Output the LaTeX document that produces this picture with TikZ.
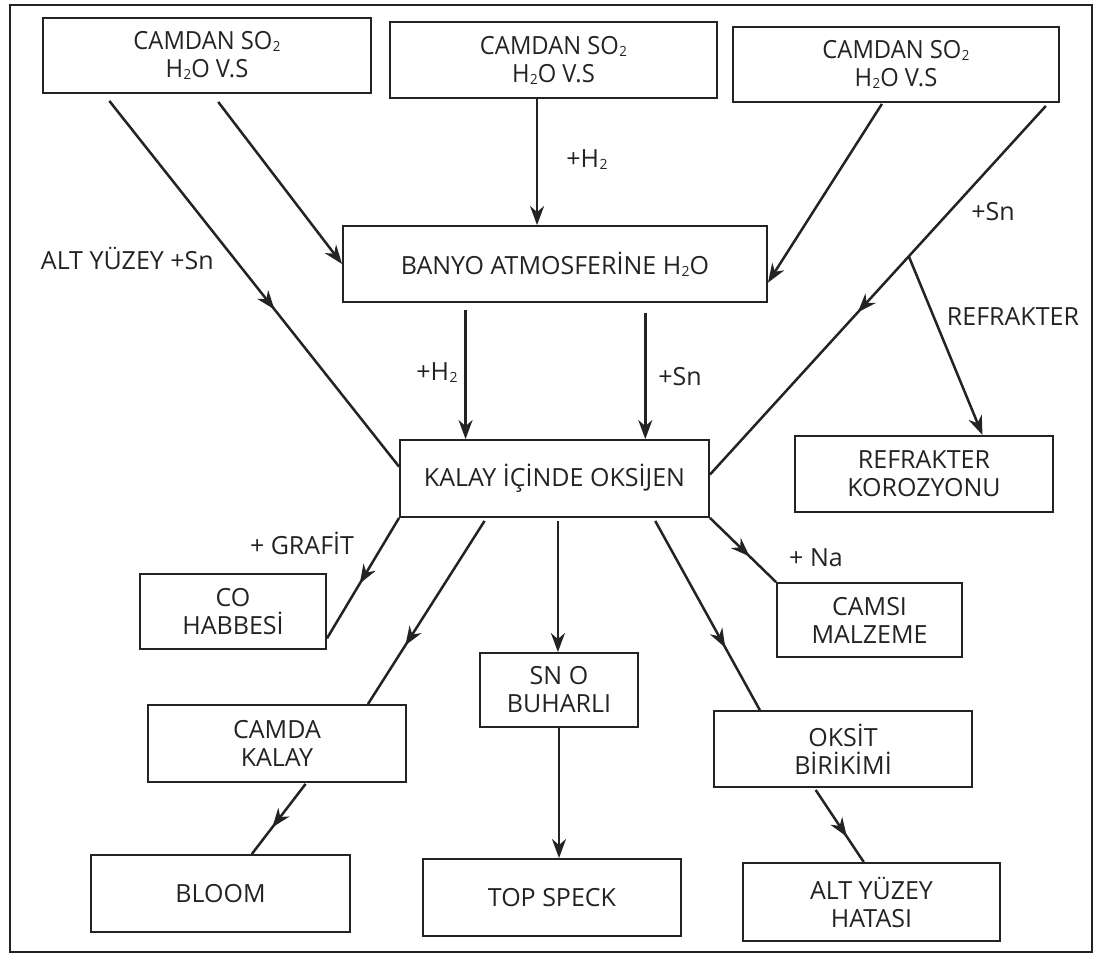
\documentclass[tikz,border=0pt]{standalone}
\usepackage{fontspec}
\setmainfont{Open Sans}
\newfontfamily\condfont{Open Sans}[FakeStretch=0.95]
\usetikzlibrary{arrows.meta,calc,decorations.markings}
\definecolor{ink}{RGB}{35,35,35}
\tikzset{
  box/.style={draw=ink, line width=1.9pt, rectangle, inner sep=0pt, align=center, font=\fontsize{25}{28}\selectfont, text=ink},
  topbox/.style={box, font=\condfont\fontsize{25}{28}\selectfont},
  lbl/.style={font=\fontsize{25}{28}\selectfont, text=ink, inner sep=0pt},
  conn/.style={draw=ink, line width=2.5pt},
  endarrow/.style={conn, -{Stealth[length=19pt,width=14pt,inset=6pt]}},
  midarrow/.style={conn, postaction={decorate}, decoration={markings, mark=at position #1 with {\arrow{Stealth[length=19pt,width=14pt,inset=6pt]}}}},
}
\newcommand{\sub}[1]{\kern0.5pt\raisebox{-2pt}{\fontsize{14}{14}\selectfont #1}}
\begin{document}
\begin{tikzpicture}[x=1pt,y=-1pt]
\useasboundingbox (0,0) rectangle (1101,969);
\draw[ink, line width=2pt] (10,5) rectangle (1092,952);

\node[topbox, minimum width=328pt, minimum height=75pt] (top1) at (207,55.5) {CAMDAN SO\sub{2}\\H\sub{2}O V.S};
\node[topbox, minimum width=327pt, minimum height=76pt] (top2) at (553.5,60) {CAMDAN SO\sub{2}\\H\sub{2}O V.S};
\node[topbox, minimum width=326pt, minimum height=75pt] (top3) at (896,64.5) {CAMDAN SO\sub{2}\\H\sub{2}O V.S};
\node[box, minimum width=424pt, minimum height=76pt] (banyo) at (555,264) {BANYO ATMOSFERİNE H\sub{2}O};
\node[box, minimum width=309pt, minimum height=77pt] (kalay) at (554.5,478.5) {KALAY İÇİNDE OKSİJEN};
\node[box, minimum width=258pt, minimum height=76pt] (refr) at (924,474) {REFRAKTER\\KOROZYONU};
\node[box, minimum width=185pt, minimum height=74pt] (camsi) at (869.5,620) {CAMSI\\MALZEME};
\node[box, minimum width=186pt, minimum height=75pt] (co) at (233,611.5) {CO\\HABBESİ};
\node[box, minimum width=158pt, minimum height=74pt] (sno) at (559,690) {SN O\\BUHARLI};
\node[box, minimum width=258pt, minimum height=77pt] (camda) at (277,743.5) {CAMDA\\KALAY};
\node[box, minimum width=258pt, minimum height=76pt] (oksit) at (843,749) {OKSİT\\BİRİKİMİ};
\node[box, minimum width=259pt, minimum height=77pt] (bloom) at (220.5,893.5) {BLOOM};
\node[box, minimum width=258pt, minimum height=77pt] (speck) at (552,897.5) {TOP SPECK};
\node[box, minimum width=257pt, minimum height=78pt] (alt) at (871.5,902) {ALT YÜZEY\\HATASI};

% connectors
\draw[midarrow=0.57] ($(top1.south west)!0.204!(top1.south east)+(0,7)$) -- ($(kalay.north west)!0.35!(kalay.south west)$);
\draw[endarrow] ($(top1.south west)!0.534!(top1.south east)+(0,8)$) -- (banyo.west);
\coordinate (t2s) at ($(top2.south west)!0.45!(top2.south east)$);
\draw[endarrow] (t2s) -- (t2s |- banyo.north);
\draw[endarrow] ($(top3.south west)!0.457!(top3.south east)+(0,1)$) -- ($(banyo.north east)!0.74!(banyo.south east)$);
\coordinate (t3s) at ($(top3.south west)!0.957!(top3.south east)+(0,3)$);
\coordinate (kE) at ($(kalay.north east)!0.45!(kalay.south east)$);
\draw[midarrow=0.56] (t3s) -- (kE);
\coordinate (br) at ($(t3s)!0.408!(kE)$);
\draw[endarrow] (br) -- ($(refr.north west)!0.725!(refr.north east)$);

\coordinate (bs1) at ($(banyo.south west)!0.29!(banyo.south east)+(0,7)$);
\draw[endarrow] (bs1) -- (bs1 |- kalay.north);
\coordinate (bs2) at ($(banyo.south west)!0.712!(banyo.south east)+(0,10)$);
\draw[endarrow] (bs2) -- (bs2 |- kalay.north);

\draw[midarrow=0.545] (kalay.south west) -- ($(co.north east)!0.85!(co.south east)$);
\draw[midarrow=0.68] ($(kalay.south west)!0.275!(kalay.south east)+(0,3)$) -- ($(camda.north west)!0.85!(camda.north east)$);
\coordinate (ks) at ($(kalay.south west)!0.511!(kalay.south east)+(0,3)$);
\draw[endarrow] (ks) -- (ks |- sno.north);
\draw[midarrow=0.67] ($(kalay.south west)!0.824!(kalay.south east)+(0,3)$) -- ($(oksit.north west)!0.18!(oksit.north east)$);
\draw[midarrow=0.6] (kalay.south east) -- (camsi.north west);

\draw[midarrow=0.62] ($(camda.south west)!0.61!(camda.south east)+(0,1)$) -- ($(bloom.north west)!0.62!(bloom.north east)$);
\draw[endarrow] (sno.south) -- (sno.south |- speck.north);
\draw[midarrow=0.65] ($(oksit.south west)!0.395!(oksit.south east)+(0,2)$) -- ($(alt.north west)!0.47!(alt.north east)$);

% labels
\node[lbl, anchor=east] (l1) at (214,258) {ALT YÜZEY +Sn};
\node[lbl] (l2) at (587,160) {+H\sub{2}};
\node[lbl] (l3) at (993,212) {+Sn};
\node[lbl] (l4) at (1013,317) {REFRAKTER};
\node[lbl] (l5) at (437,373) {+H\sub{2}};
\node[lbl] (l6) at (680,377) {+Sn};
\node[lbl] (l7) at (302,543) {+ GRAFİT};
\node[lbl] (l8) at (816,558) {+ Na};
\end{tikzpicture}
\end{document}
